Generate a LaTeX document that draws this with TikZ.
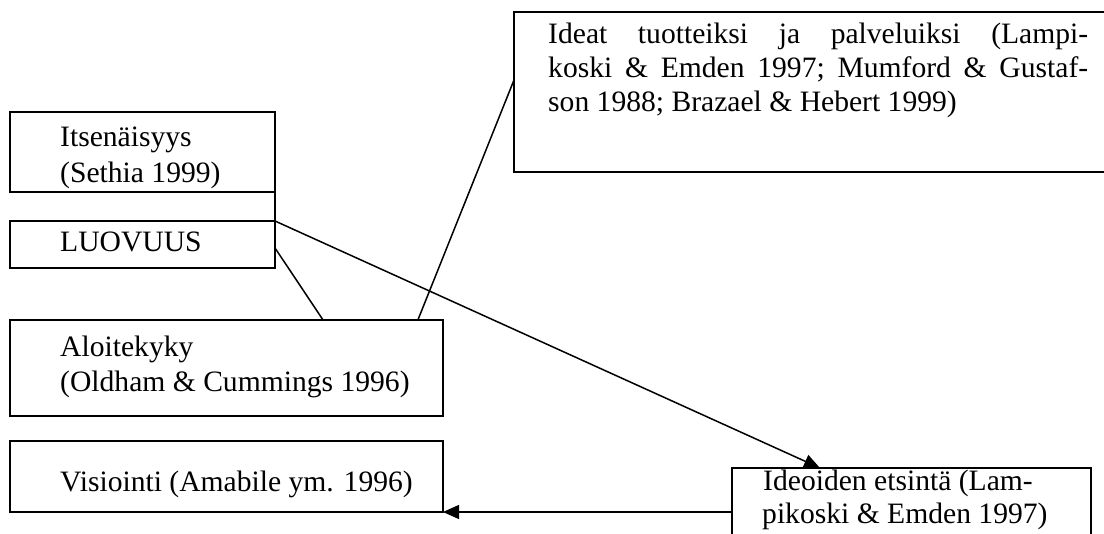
\documentclass[tikz,border=0pt]{standalone}
\usepackage{fontspec}
\setmainfont{Liberation Serif}
\usetikzlibrary{calc,arrows.meta}
% stretchable interword space for the justified lines
\newcommand{\jsp}{\ \hspace{0pt plus 1fil}}
\tikzset{
  box/.style={draw, line width=2.2pt, rectangle, inner sep=0pt, outer sep=0pt, anchor=north west},
  link/.style={line width=1.5pt},
  txt/.style={anchor=base west, inner sep=0pt, font=\fontsize{29.6}{36}\selectfont},
  tip/.style={-{Triangle[length=16pt,width=14pt]}}
}
\begin{document}
\begin{tikzpicture}[x=1pt, y=-1pt]
  \clip (0,0) rectangle (1104,534);
  \fill[white] (0,0) rectangle (1104,534);

  % boxes
  \node[box, minimum width=265pt, minimum height=80pt] (itsen) at (10,112) {};
  \node[box, minimum width=265pt, minimum height=47pt] (luov) at (10,221) {};
  \node[box, minimum width=433pt, minimum height=96pt] (aloit) at (10,320) {};
  \node[box, minimum width=433pt, minimum height=71pt] (visio) at (10,441) {};
  \node[box, minimum width=600pt, minimum height=160pt] (ideat) at (514,12) {};
  \node[box, minimum width=359pt, minimum height=80pt] (ideoid) at (732,468) {};

  % box texts
  \node[txt] (t1a) at (60,147) {Itsenäisyys};
  \node[txt] (t1b) at (60,183) {(Sethia 1999)};
  \node[txt] (t2) at (60,252) {LUOVUUS};
  \node[txt] (t3a) at (60,357) {Aloitekyky};
  \node[txt] (t3b) at (60,392) {(Oldham \& Cummings 1996)};
  \node[txt] (t4) at (60,492) {Visiointi (Amabile ym. 1996)};
  \node[txt] (t5a) at (548,44) {\hbox to 540pt{Ideat\jsp tuotteiksi\jsp ja\jsp palveluiksi\jsp (Lampi-}};
  \node[txt] (t5b) at (548,78) {\hbox to 540pt{koski\jsp \&\jsp Emden\jsp 1997;\jsp Mumford\jsp \&\jsp Gustaf-}};
  \node[txt] (t5c) at (548,112) {son 1988; Brazael \& Hebert 1999)};
  \node[txt] (t6a) at (763,491) {Ideoiden etsintä (Lam-};
  \node[txt] (t6b) at (762,524) {pikoski \& Emden 1997)};

  % connectors
  \draw[link] (itsen.south east) -- (luov.north east);
  \draw[link] ([yshift=-3.5pt]luov.east) -- ($(aloit.north west)!0.723!(aloit.north east)$);
  \draw[link] ($(aloit.north west)!0.942!(aloit.north east)$) -- ($(ideat.north west)!0.425!(ideat.south west)$);
  \draw[link, tip] (luov.north east) -- ($(ideoid.north west)!0.245!(ideoid.north east)$);
  \draw[link, tip] (ideoid.west |- visio.south east) -- (visio.south east);
\end{tikzpicture}
\end{document}
